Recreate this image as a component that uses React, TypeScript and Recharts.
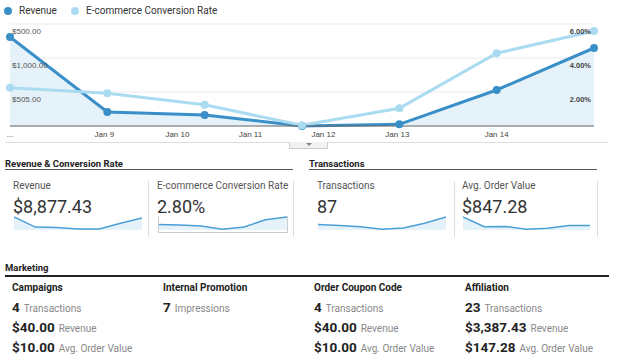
import React from 'react';
import { ComposedChart, AreaChart, Area, Line, XAxis, YAxis, CartesianGrid } from 'recharts';

// main chart
const pointPos = [0, 1, 2, 3, 4, 5, 6];
const revenue = [3141, 494, 388, 0, 60, 1271, 2753];
const conversionRate = [2.25, 1.92, 1.25, 0.04, 1.04, 4.28, 5.59];
const xTickPos = [0, 0.97, 1.72, 2.47, 3.22, 3.98, 5];
const xTickLabels = ['...', 'Jan 9', 'Jan 10', 'Jan 11', 'Jan 12', 'Jan 13', 'Jan 14'];
const revTicks = [1200, 2400, 3600];
const revTickLabels = ['$505.00', '$1,000.00', '$500.00'];
const rateTicks = [0, 1, 2, 3, 4, 5, 6];
const seriesNames = ['Revenue', 'E-commerce Conversion Rate'];

// scorecards
const cardLabels = ['Revenue', 'E-commerce Conversion Rate', 'Transactions', 'Avg. Order Value'];
const cardValues = ['$8,877.43', '2.80%', '87', '$847.28'];
const revenueSpark = [13.3, 3, 2.5, 1, 1, 7, 12.3];
const rateSpark = [5.7, 5, 4, 0.7, 3, 10.5, 13.3];
const transactionsSpark = [5.7, 4.5, 3.3, 0.7, 2, 7, 13.3];
const aovSpark = [13.3, 3.3, 3.7, 0.7, 1.7, 4.7, 4.7];

// marketing
const marketingTitles = ['Campaigns', 'Internal Promotion', 'Order Coupon Code', 'Affiliation'];
const marketingValues = [['4', '$40.00', '$10.00'], ['7'], ['4', '$40.00', '$10.00'], ['23', '$3,387.43', '$147.28']];
const marketingUnits = [['Transactions', 'Revenue', 'Avg. Order Value'], ['Impressions'], ['Transactions', 'Revenue', 'Avg. Order Value'], ['Transactions', 'Revenue', 'Avg. Order Value']];

const DARK = '#3a8fc8';
const LIGHT = '#aadbf1';
const AXIS_FONT = '"Liberation Sans", Arial, sans-serif';

const chartData = pointPos.map((p, i) => ({ p, revenue: revenue[i], rate: conversionRate[i] }));

const LeftTick = (props: any) => (
  <text x={props.x} y={props.y + 10} fontSize={8} fill="#555" fontFamily={AXIS_FONT} textAnchor="start">
    {revTickLabels[revTicks.indexOf(props.payload.value)]}
  </text>
);

const RightTick = (props: any) => {
  const v = props.payload.value;
  if (v === 0 || v % 2 !== 0) return null;
  return (
    <text x={props.x} y={props.y + 10} fontSize={7.5} fontWeight="bold" fill="#444" fontFamily={AXIS_FONT} textAnchor="end">
      {v.toFixed(2) + '%'}
    </text>
  );
};

function Txt({ x, y, size, weight, color, children }: any) {
  return (
    <div style={{ position: 'absolute', left: x, top: y - size * 0.6, fontSize: size, lineHeight: `${size * 1.2}px`, fontWeight: weight || 'normal', color: color || '#222', whiteSpace: 'nowrap' }}>
      {children}
    </div>
  );
}

function Spark({ data, left, top, width }: any) {
  const rows = data.map((v: number, i: number) => ({ i, v }));
  return (
    <div style={{ position: 'absolute', left, top }}>
      <AreaChart width={width} height={15} data={rows} margin={{ top: 1, right: 0, bottom: 1, left: 0 }}>
        <XAxis dataKey="i" hide />
        <YAxis hide domain={[0, 'dataMax']} />
        <Area type="linear" dataKey="v" stroke="#4a9fd6" strokeWidth={1.5} fill="#e6f2fa" fillOpacity={1} dot={false} isAnimationActive={false} />
      </AreaChart>
    </div>
  );
}

const VLine = ({ x }: any) => <div style={{ position: 'absolute', left: x, top: 181, width: 1, height: 56, background: '#ddd' }} />;

export default function App() {
  const cardX = [13, 157, 317, 462];
  const sparkX = [14, 158, 318, 463];
  const sparkW = [128, 129, 128, 127];
  const sparks = [revenueSpark, rateSpark, transactionsSpark, aovSpark];
  const colX = [12, 163, 314, 465];
  const rowY = [306.7, 326.7, 346.7];

  return (
    <div style={{ position: 'relative', width: 620, height: 364, overflow: 'hidden', background: '#fff', fontFamily: 'Roboto, sans-serif' }}>
      <style>{'body{margin:0}'}</style>

      {/* legend */}
      {seriesNames.map((name, i) => (
        <div key={name} style={{ position: 'absolute', left: i === 0 ? 4 : 71, top: 5, display: 'flex', alignItems: 'center', fontSize: 10, color: '#333', lineHeight: '12px' }}>
          <span style={{ display: 'inline-block', width: 8, height: 8, borderRadius: 4, background: i === 0 ? DARK : LIGHT, marginRight: 7 }} />
          {name}
        </div>
      ))}

      <div style={{ position: 'absolute', left: 0, top: 0 }}>
        <ComposedChart width={620} height={150} data={chartData} margin={{ top: 24, right: 26, bottom: 0, left: 10 }}>
          <CartesianGrid yAxisId="rate" vertical={false} stroke="#ebebeb" />
          <XAxis
            dataKey="p"
            type="number"
            domain={[0, 6]}
            ticks={xTickPos}
            interval={0}
            tickFormatter={(v: number) => xTickLabels[xTickPos.indexOf(v)]}
            tickLine={false}
            tickSize={3}
            height={24}
            axisLine={{ stroke: '#666' }}
            tick={{ fontSize: 8, fill: '#444', fontFamily: AXIS_FONT }}
          />
          <YAxis yAxisId="rev" orientation="left" mirror domain={[0, 3600]} ticks={revTicks} tickLine={false} axisLine={false} tickSize={0} tickMargin={2} tick={<LeftTick />} />
          <YAxis yAxisId="rate" orientation="right" mirror domain={[0, 6]} ticks={rateTicks} tickLine={false} axisLine={false} tickSize={0} tickMargin={3} tick={<RightTick />} />
          <Area yAxisId="rev" type="linear" dataKey="revenue" stroke={DARK} strokeWidth={3} fill="#e6f2f9" fillOpacity={1} dot={{ r: 4, fill: DARK, stroke: 'none' }} activeDot={false} isAnimationActive={false} />
          <Line yAxisId="rate" type="linear" dataKey="rate" stroke={LIGHT} strokeWidth={3} dot={{ r: 4, fill: LIGHT, stroke: 'none' }} activeDot={false} isAnimationActive={false} />
        </ComposedChart>
      </div>

      {/* chart bottom border and tab */}
      <div style={{ position: 'absolute', left: 5, top: 142, width: 603, height: 1, background: '#ddd' }} />
      <div style={{ position: 'absolute', left: 289, top: 142, width: 37, height: 6, background: '#f2f2f2', border: '1px solid #ccc', borderTop: 'none' }}>
        <div style={{ position: 'absolute', left: 16, top: 1, width: 0, height: 0, borderLeft: '3px solid transparent', borderRight: '3px solid transparent', borderTop: '3px solid #888' }} />
      </div>

      {/* section headings */}
      <Txt x={5} y={163.5} size={9.5} weight="bold">Revenue &amp; Conversion Rate</Txt>
      <div style={{ position: 'absolute', left: 5, top: 169, width: 288, height: 1, background: '#555' }} />
      <Txt x={309} y={163.5} size={9.5} weight="bold">Transactions</Txt>
      <div style={{ position: 'absolute', left: 309, top: 169, width: 288, height: 1, background: '#555' }} />

      {cardLabels.map((label, i) => (
        <React.Fragment key={label}>
          <Txt x={cardX[i]} y={186} size={10} color="#555">{label}</Txt>
          <Txt x={cardX[i]} y={206.7} size={18} color="#333">{cardValues[i]}</Txt>
          <Spark data={sparks[i]} left={sparkX[i]} top={215.5} width={sparkW[i]} />
        </React.Fragment>
      ))}
      <div style={{ position: 'absolute', left: 158, top: 216, width: 128, height: 16, border: '1px solid #ccc', borderTop: 'none' }} />
      <VLine x={148} />
      <VLine x={293} />
      <VLine x={454} />
      <VLine x={597} />

      {/* marketing */}
      <Txt x={5} y={267.3} size={9.5} weight="bold">Marketing</Txt>
      <div style={{ position: 'absolute', left: 5, top: 275, width: 604, height: 1.5, background: '#222' }} />
      {marketingTitles.map((title, c) => (
        <React.Fragment key={title}>
          <Txt x={colX[c]} y={288.3} size={10} weight="bold">{title}</Txt>
          {marketingValues[c].map((v, r) => (
            <Txt key={r} x={colX[c]} y={rowY[r]} size={13.5} weight="bold">
              {v}
              <span style={{ fontSize: 10, fontWeight: 'normal', color: '#888', marginLeft: 4 }}>{marketingUnits[c][r]}</span>
            </Txt>
          ))}
        </React.Fragment>
      ))}
    </div>
  );
}
